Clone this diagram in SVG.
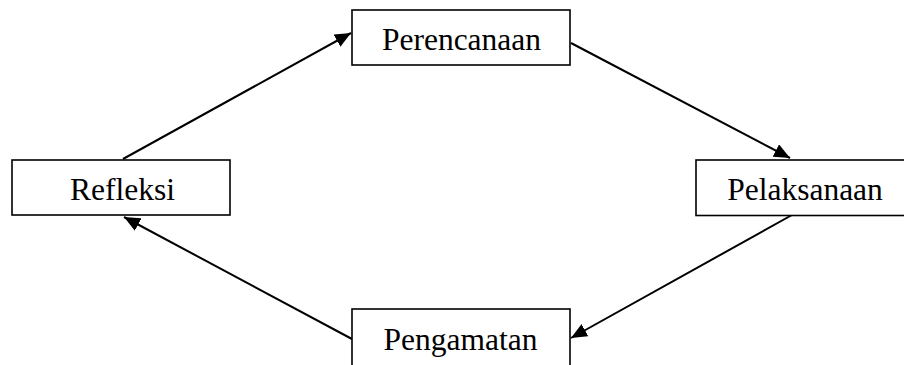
<svg xmlns="http://www.w3.org/2000/svg" width="904" height="365" viewBox="0 0 904 365">
<style>
.box{fill:#fff;stroke:#000;stroke-width:1.6}
.lbl{font-family:"Liberation Serif","Times New Roman",serif;font-size:31.5px;fill:#000;text-anchor:middle}
.con{stroke:#000;stroke-width:2;fill:none;marker-end:url(#ah)}
</style>
<defs>
<marker id="ah" markerUnits="userSpaceOnUse" markerWidth="17" markerHeight="14" refX="16" refY="7" orient="auto">
<path d="M0,0 L16,7 L0,14 Z" fill="#000"/>
</marker>
</defs>
<g id="connectors">
<line class="con" x1="123" y1="159" x2="351" y2="33"/>
<line class="con" x1="571" y1="43" x2="790" y2="158"/>
<line class="con" x1="792" y1="215" x2="571" y2="338"/>
<line class="con" x1="352" y1="339" x2="124" y2="217"/>
</g>
<g id="perencanaan">
<rect class="box" x="352" y="10" width="218" height="55"/>
<text class="lbl" x="461.5" y="50">Perencanaan</text>
</g>
<g id="refleksi">
<rect class="box" x="12" y="160" width="218" height="55"/>
<text class="lbl" x="122.5" y="200">Refleksi</text>
</g>
<g id="pelaksanaan">
<rect class="box" x="696" y="160" width="220" height="55.5"/>
<text class="lbl" x="805" y="200">Pelaksanaan</text>
</g>
<g id="pengamatan">
<rect class="box" x="352" y="309" width="218" height="70"/>
<text class="lbl" x="460.5" y="350">Pengamatan</text>
</g>
</svg>
